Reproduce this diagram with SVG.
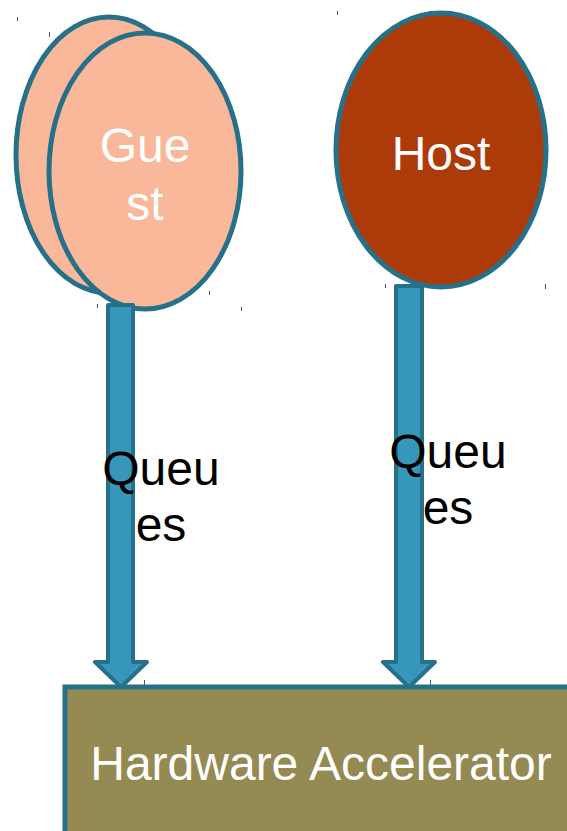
<svg xmlns="http://www.w3.org/2000/svg" width="567" height="831" viewBox="0 0 567 831">
  <style>
    .outline { stroke: #27708A; stroke-width: 5; }
    .guest { fill: #F9B899; }
    .host { fill: #AD3A09; }
    .queue { fill: #3797BA; stroke: #27708A; stroke-width: 4; stroke-linejoin: round; }
    .accel { fill: #948A52; }
    .label { font-family: "Liberation Sans", Arial, sans-serif; font-size: 48px; text-anchor: middle; }
    .light { fill: #FFFFFF; }
    .dark { fill: #000000; }
    .tick { stroke: #3A5F70; stroke-width: 1; }
  </style>

  <!-- stacked guest ellipses -->
  <g id="guest">
    <ellipse class="guest outline" cx="109" cy="155" rx="93" ry="138"/>
    <ellipse class="guest outline" cx="145" cy="171" rx="96" ry="138"/>
    <text class="label light" x="145" y="162">Gue</text>
    <text class="label light" x="145" y="220">st</text>
  </g>

  <g id="host">
    <ellipse class="host outline" cx="441" cy="150" rx="105" ry="137"/>
    <text class="label light" x="441" y="170">Host</text>
  </g>

  <!-- queue arrows down to the accelerator -->
  <g id="connectors">
    <path class="queue" d="M108,305 H133 V662 H147 L121,687 L95,662 H108 Z"/>
    <path class="queue" d="M396,286 H422 V662 H435 L409,687 L383,662 H396 Z"/>
    <text class="label dark" x="161" y="485">Queu</text>
    <text class="label dark" x="161" y="541">es</text>
    <text class="label dark" x="448" y="468">Queu</text>
    <text class="label dark" x="448" y="524">es</text>
  </g>

  <g id="accelerator">
    <rect class="accel outline" x="65" y="687" width="530" height="170"/>
    <text class="label light" x="321" y="780">Hardware Accelerator</text>
  </g>

  <!-- small handle marks -->
  <g id="handles">
    <line class="tick" x1="17.5" y1="17" x2="17.5" y2="21"/>
    <line class="tick" x1="49.5" y1="32" x2="49.5" y2="37"/>
    <line class="tick" x1="97.5" y1="304" x2="97.5" y2="308"/>
    <line class="tick" x1="209.5" y1="291" x2="209.5" y2="295"/>
    <line class="tick" x1="241.5" y1="307" x2="241.5" y2="311"/>
    <line class="tick" x1="337.5" y1="11" x2="337.5" y2="15"/>
    <line class="tick" x1="385.5" y1="284" x2="385.5" y2="288"/>
    <line class="tick" x1="545.5" y1="284" x2="545.5" y2="289"/>
    <line class="tick" x1="144.5" y1="680" x2="144.5" y2="685"/>
    <line class="tick" x1="430.5" y1="680" x2="430.5" y2="685"/>
  </g>
</svg>
